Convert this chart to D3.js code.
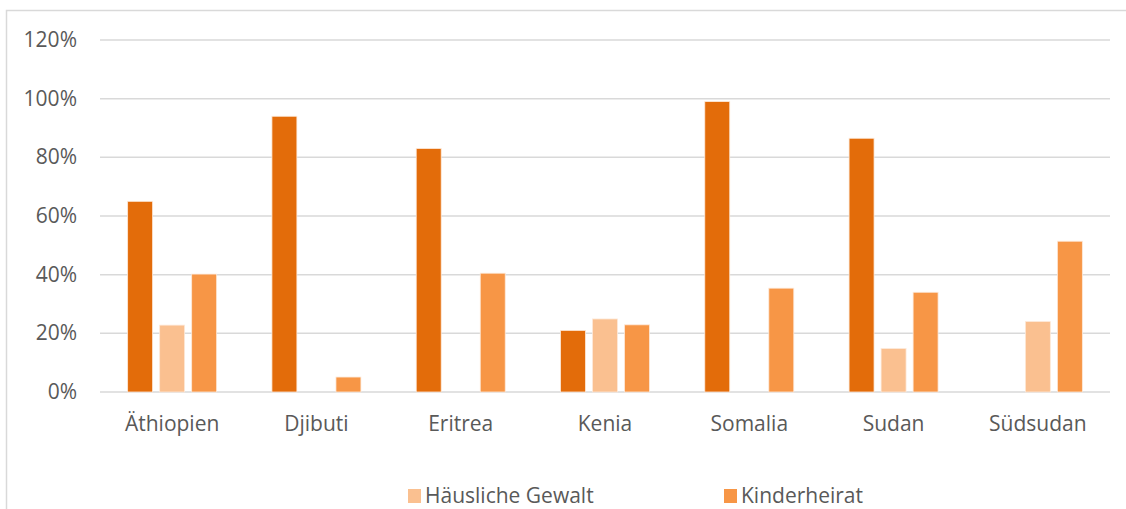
<!DOCTYPE html>
<html>
<head>
<meta charset="utf-8">
<script src="https://cdn.jsdelivr.net/npm/d3@7"></script>
<style>
  body { margin: 0; background: #fff; }
  text { font-family: "Open Sans", "Liberation Sans", sans-serif; fill: #595959; }
</style>
</head>
<body>
<div id="chart"></div>
<script>
const categories = ["Äthiopien", "Djibuti", "Eritrea", "Kenia", "Somalia", "Sudan", "Südsudan"];
const seriesNames = ["Genitalverstümmelung", "Häusliche Gewalt", "Kinderheirat"];
const fgm = [0.65, 0.94, 0.83, 0.21, 0.99, 0.865, 0];
const violence = [0.228, 0, 0, 0.249, 0, 0.148, 0.24];
const marriage = [0.402, 0.051, 0.405, 0.229, 0.354, 0.34, 0.514];
const yTicks = [0, 0.2, 0.4, 0.6, 0.8, 1.0, 1.2];
const colors = ["#E36C0A", "#FAC090", "#F79646"];
const legendItems = ["Häusliche Gewalt", "Kinderheirat"];

const width = 1126, height = 509;
const svg = d3.select("#chart").append("svg")
  .attr("width", width).attr("height", height);

// chart frame (cut off at right and bottom)
svg.append("rect")
  .attr("x", 6.5).attr("y", 10.5)
  .attr("width", 1200).attr("height", 600)
  .attr("fill", "none").attr("stroke", "#d9d9d9").attr("stroke-width", 1.5);

const x0 = d3.scaleBand().domain(categories).range([100, 1110]);
const x1 = d3.scaleBand().domain(seriesNames).range([-44.5, 44.5]).paddingInner(0.22);
const y = d3.scaleLinear().domain([0, 1.2]).range([392, 40]);

// gridlines
svg.append("g").selectAll("line")
  .data(yTicks).enter().append("line")
  .attr("x1", 100).attr("x2", 1110)
  .attr("y1", d => y(d)).attr("y2", d => y(d))
  .attr("stroke", "#d9d9d9").attr("stroke-width", 1.5);

// y labels
svg.append("g").selectAll("text")
  .data(yTicks).enter().append("text")
  .attr("x", 77).attr("y", d => y(d) + 7)
  .attr("text-anchor", "end")
  .attr("font-size", 21)
  .text(d => d3.format(".0%")(d));

const rows = categories.map((c, i) => ({ cat: c, vals: [fgm[i], violence[i], marriage[i]] }));

const groups = svg.append("g").selectAll("g")
  .data(rows).enter().append("g")
  .attr("transform", d => `translate(${x0(d.cat) + x0.bandwidth() / 2},0)`);

groups.selectAll("rect")
  .data(d => d.vals.map((v, j) => ({ key: seriesNames[j], v, j })).filter(e => e.v > 0))
  .enter().append("rect")
  .attr("x", d => x1(d.key))
  .attr("width", x1.bandwidth())
  .attr("y", d => y(d.v))
  .attr("height", d => y(0) - y(d.v))
  .attr("fill", d => colors[d.j])
  .attr("stroke", "#fde9d9").attr("stroke-width", 0.8);

// category labels
svg.append("g").selectAll("text")
  .data(categories).enter().append("text")
  .attr("x", d => x0(d) + x0.bandwidth() / 2)
  .attr("y", 431)
  .attr("text-anchor", "middle")
  .attr("font-size", 21)
  .text(d => d);

// legend (only the visible row)
const legendX = [408, 724];
const lg = svg.append("g").selectAll("g")
  .data(legendItems).enter().append("g")
  .attr("transform", (d, i) => `translate(${legendX[i]},489)`);
lg.append("rect").attr("width", 13).attr("height", 14)
  .attr("fill", d => colors[seriesNames.indexOf(d)]);
lg.append("text").attr("x", 17).attr("y", 14).attr("font-size", 21).text(d => d);
</script>
</body>
</html>
